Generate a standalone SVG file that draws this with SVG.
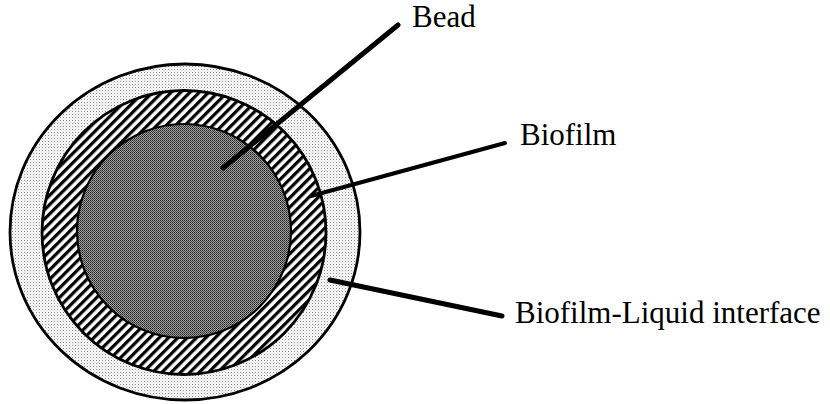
<svg xmlns="http://www.w3.org/2000/svg" width="830" height="404" viewBox="0 0 830 404">
  <style>
    .label { font-family: "Liberation Serif", "Times New Roman", serif; font-size: 31px; fill: #000; }
    .edge { stroke: #000; stroke-linecap: round; fill: none; }
    .outline { stroke: #000; stroke-width: 2.8; }
  </style>
  <defs>
    <pattern id="stipple" patternUnits="userSpaceOnUse" width="3" height="3">
      <rect width="3" height="3" fill="#fff"/>
      <rect x="0" y="0" width="1" height="1" fill="#888"/>
      <rect x="1.5" y="1.5" width="1" height="1" fill="#bbb"/>
    </pattern>
    <pattern id="hatch" patternUnits="userSpaceOnUse" width="6.6" height="6.6" patternTransform="rotate(45)">
      <rect width="6.6" height="6.6" fill="#fff"/>
      <rect x="0" y="0" width="3.2" height="6.6" fill="#000"/>
    </pattern>
    <pattern id="dense" patternUnits="userSpaceOnUse" width="2" height="2">
      <rect width="2" height="2" fill="#a0a0a0"/>
      <rect x="0" y="0" width="1" height="1" fill="#222"/>
      <rect x="1" y="1" width="1" height="1" fill="#444"/>
    </pattern>
  </defs>

  <g id="interface">
    <ellipse cx="185" cy="232" rx="175" ry="168" fill="url(#stipple)" class="outline"/>
    <text class="label" x="515" y="323">Biofilm-Liquid interface</text>
  </g>

  <g id="biofilm">
    <circle cx="184" cy="232.5" r="142" fill="url(#hatch)" class="outline"/>
    <text class="label" x="520" y="145">Biofilm</text>
  </g>

  <g id="bead">
    <circle cx="184" cy="231" r="107" fill="url(#dense)" stroke="#000" stroke-width="2.2"/>
    <text class="label" x="412" y="27">Bead</text>
  </g>

  <g id="connectors">
    <line class="edge" x1="223" y1="168" x2="398" y2="25" stroke-width="5"/>
    <line class="edge" x1="311" y1="196" x2="505" y2="143" stroke-width="4"/>
    <line class="edge" x1="330" y1="280" x2="502" y2="316" stroke-width="5"/>
  </g>
</svg>
